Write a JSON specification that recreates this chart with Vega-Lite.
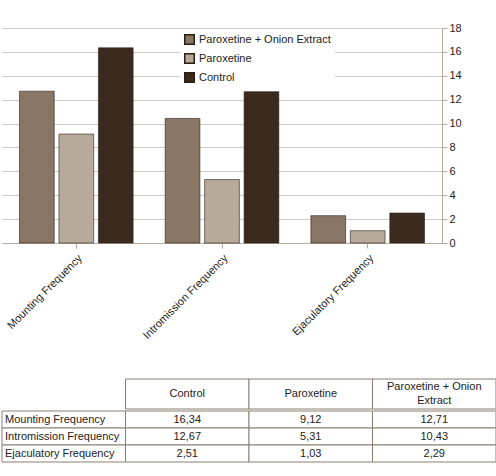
{
  "$schema": "https://vega.github.io/schema/vega-lite/v6.json",
  "padding": {"left": 1, "top": 22, "right": 1, "bottom": 5},
  "background": "white",
  "datasets": {
    "bars": [
      {"measure": "Mounting Frequency", "group": "Control", "value": 16.34},
      {"measure": "Mounting Frequency", "group": "Paroxetine", "value": 9.12},
      {"measure": "Mounting Frequency", "group": "Paroxetine + Onion Extract", "value": 12.71},
      {"measure": "Intromission Frequency", "group": "Control", "value": 12.67},
      {"measure": "Intromission Frequency", "group": "Paroxetine", "value": 5.31},
      {"measure": "Intromission Frequency", "group": "Paroxetine + Onion Extract", "value": 10.43},
      {"measure": "Ejaculatory Frequency", "group": "Control", "value": 2.51},
      {"measure": "Ejaculatory Frequency", "group": "Paroxetine", "value": 1.03},
      {"measure": "Ejaculatory Frequency", "group": "Paroxetine + Onion Extract", "value": 2.29}
    ],
    "table": [
      {"row": "h", "col": "a", "text": ""},
      {"row": "h", "col": "b", "text": "Control"},
      {"row": "h", "col": "c", "text": "Paroxetine"},
      {"row": "h", "col": "d", "text": "Paroxetine + Onion\nExtract"},
      {"row": "r1", "col": "a", "text": "Mounting Frequency"},
      {"row": "r1", "col": "b", "text": "16,34"},
      {"row": "r1", "col": "c", "text": "9,12"},
      {"row": "r1", "col": "d", "text": "12,71"},
      {"row": "r2", "col": "a", "text": "Intromission Frequency"},
      {"row": "r2", "col": "b", "text": "12,67"},
      {"row": "r2", "col": "c", "text": "5,31"},
      {"row": "r2", "col": "d", "text": "10,43"},
      {"row": "r3", "col": "a", "text": "Ejaculatory Frequency"},
      {"row": "r3", "col": "b", "text": "2,51"},
      {"row": "r3", "col": "c", "text": "1,03"},
      {"row": "r3", "col": "d", "text": "2,29"}
    ]
  },
  "vconcat": [
    {
      "width": 440,
      "height": 215,
      "data": {"name": "bars"},
      "mark": {"type": "bar", "stroke": "#2a1f18", "strokeWidth": 0.6},
      "encoding": {
        "x": {
          "field": "measure",
          "type": "nominal",
          "sort": ["Mounting Frequency", "Intromission Frequency", "Ejaculatory Frequency"],
          "scale": {"paddingInner": 0.22, "paddingOuter": 0.12},
          "axis": {"title": null, "labelAngle": -45, "labelFontSize": 11, "labelColor": "#222", "domainColor": "#b8ab9c", "tickColor": "#b8ab9c", "labelPadding": 4}
        },
        "xOffset": {
          "field": "group",
          "type": "nominal",
          "sort": ["Paroxetine + Onion Extract", "Paroxetine", "Control"],
          "scale": {"paddingInner": 0.12}
        },
        "y": {
          "field": "value",
          "type": "quantitative",
          "scale": {"domain": [0, 18]},
          "axis": {"title": null, "orient": "right", "values": [0, 2, 4, 6, 8, 10, 12, 14, 16, 18], "gridColor": "#d2c9bf", "domainColor": "#b8ab9c", "tickColor": "#b8ab9c", "labelFontSize": 11, "labelColor": "#222"}
        },
        "color": {
          "field": "group",
          "type": "nominal",
          "sort": ["Paroxetine + Onion Extract", "Paroxetine", "Control"],
          "scale": {"domain": ["Paroxetine + Onion Extract", "Paroxetine", "Control"], "range": ["#8a7665", "#b8aa9b", "#3b2a1e"]},
          "legend": {"title": null, "orient": "none", "legendX": 178, "legendY": 2, "labelFontSize": 11, "labelColor": "#222", "symbolType": "square", "symbolSize": 90, "fillColor": "white", "padding": 4}
        }
      }
    },
    {
      "spacing": 0,
      "vconcat": [
        {
          "width": 494,
          "height": 30,
          "data": {"name": "table"},
          "transform": [{"filter": "datum.row == 'h'"}],
          "layer": [
            {
              "transform": [{"filter": "datum.col != 'a'"}],
              "mark": {"type": "rect", "fill": "white", "stroke": "#8c7f70", "strokeWidth": 1},
              "encoding": {
                "x": {"field": "col", "type": "nominal", "axis": null, "scale": {"domain": ["a", "b", "c", "d"]}},
                "y": {"field": "row", "type": "nominal", "axis": null}
              }
            },
            {
              "transform": [{"filter": "datum.col != 'd'"}],
              "mark": {"type": "text", "fontSize": 11, "color": "#222"},
              "encoding": {
                "x": {"field": "col", "type": "nominal", "axis": null, "scale": {"domain": ["a", "b", "c", "d"]}},
                "y": {"field": "row", "type": "nominal", "axis": null},
                "text": {"field": "text"}
              }
            },
            {
              "transform": [{"filter": "datum.col == 'd'"}],
              "mark": {"type": "text", "fontSize": 11, "color": "#222", "lineBreak": "\n", "lineHeight": 14, "dy": -7},
              "encoding": {
                "x": {"field": "col", "type": "nominal", "axis": null, "scale": {"domain": ["a", "b", "c", "d"]}},
                "y": {"field": "row", "type": "nominal", "axis": null},
                "text": {"field": "text"}
              }
            }
          ]
        },
        {
          "width": 494,
          "height": 51,
          "data": {"name": "table"},
          "transform": [{"filter": "datum.row != 'h'"}],
          "layer": [
            {
              "mark": {"type": "rect", "fill": "white", "stroke": "#8c7f70", "strokeWidth": 1},
              "encoding": {
                "x": {"field": "col", "type": "nominal", "axis": null, "scale": {"domain": ["a", "b", "c", "d"]}},
                "y": {"field": "row", "type": "nominal", "axis": null}
              }
            },
            {
              "transform": [{"filter": "datum.col == 'a'"}],
              "mark": {"type": "text", "fontSize": 11, "color": "#222", "align": "left", "dx": 3},
              "encoding": {
                "x": {"field": "col", "type": "nominal", "axis": null, "bandPosition": 0, "scale": {"domain": ["a", "b", "c", "d"]}},
                "y": {"field": "row", "type": "nominal", "axis": null},
                "text": {"field": "text"}
              }
            },
            {
              "transform": [{"filter": "datum.col != 'a'"}],
              "mark": {"type": "text", "fontSize": 11, "color": "#222"},
              "encoding": {
                "x": {"field": "col", "type": "nominal", "axis": null, "scale": {"domain": ["a", "b", "c", "d"]}},
                "y": {"field": "row", "type": "nominal", "axis": null},
                "text": {"field": "text"}
              }
            }
          ]
        }
      ]
    }
  ],
  "spacing": 37,
  "config": {
    "font": "Liberation Sans",
    "view": {"stroke": null}
  }
}
